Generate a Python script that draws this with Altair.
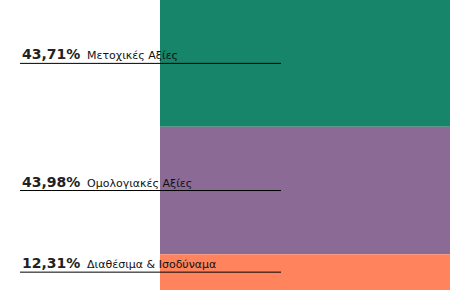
import altair as alt
import pandas as pd

categories = ["Μετοχικές Αξίες", "Ομολογιακές Αξίες", "Διαθέσιμα & Ισοδύναμα"]
values = [43.71, 43.98, 12.31]
colors = ["#16856a", "#8b6a96", "#ff845e"]
order = [0, 1, 2]
pct_labels = [f"{v:.2f}".replace(".", ",") + "%" for v in values]

df = pd.DataFrame({"cat": categories, "value": values, "order": order, "pct": pct_labels})

yscale = alt.Scale(domain=[0, 100], reverse=True, nice=False, zero=False)

base = alt.Chart(df).transform_stack(
    stack="value", as_=["y0", "y1"], groupby=[], sort=[alt.SortField("order", order="ascending")]
).transform_calculate(mid="(datum.y0 + datum.y1) / 2")

bars = base.mark_rect().encode(
    x=alt.value(160), x2=alt.value(450),
    y=alt.Y("y0:Q", scale=yscale, axis=None), y2="y1:Q",
    color=alt.Color("cat:N", scale=alt.Scale(domain=categories, range=colors), legend=None),
)

rules = base.mark_rule(color="black", strokeWidth=1).encode(
    x=alt.value(20), x2=alt.value(281),
    y=alt.Y("mid:Q", scale=yscale, axis=None),
)

pct = base.mark_text(align="left", baseline="alphabetic", font="DejaVu Sans", fontWeight="bold",
                     fontSize=14, color="#222222", dy=-4).encode(
    x=alt.value(22), y=alt.Y("mid:Q", scale=yscale, axis=None), text="pct:N",
)

names = base.mark_text(align="left", baseline="alphabetic", font="DejaVu Sans",
                       fontSize=11, color="#111111", dy=-4).encode(
    x=alt.value(87), y=alt.Y("mid:Q", scale=yscale, axis=None), text="cat:N",
)

chart = alt.layer(bars, rules, pct, names).properties(
    width=465, height=290, padding=0, autosize=alt.AutoSizeParams(type="none")
).configure_view(stroke=None)

chart.save("out.html", embed_options={"renderer": "svg", "actions": False})
